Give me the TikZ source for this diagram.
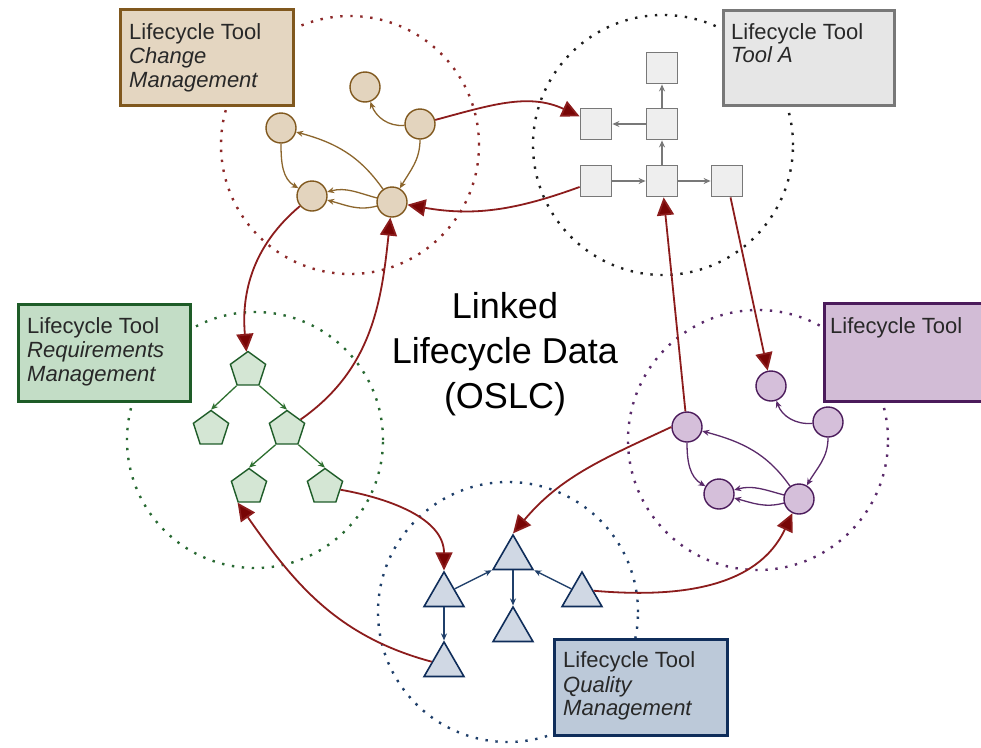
\documentclass[tikz,border=0pt]{standalone}
\usepackage{fontspec}
\setmainfont{Liberation Sans}
\usetikzlibrary{arrows.meta,shapes.geometric}

\definecolor{redc}{RGB}{140,28,28}
\definecolor{redtip}{RGB}{120,5,5}
\definecolor{boxtxt}{RGB}{40,40,40}
\definecolor{cmfill}{RGB}{228,214,193}
\definecolor{cmdraw}{RGB}{128,88,30}
\definecolor{cmnode}{RGB}{227,212,190}
\definecolor{cmedge}{RGB}{140,102,45}
\definecolor{cmdot}{RGB}{140,40,40}
\definecolor{tafill}{RGB}{230,230,230}
\definecolor{tadraw}{RGB}{120,120,120}
\definecolor{tanode}{RGB}{238,238,238}
\definecolor{taedge}{RGB}{120,120,120}
\definecolor{tadot}{RGB}{30,30,30}
\definecolor{rmfill}{RGB}{195,221,198}
\definecolor{rmdraw}{RGB}{30,92,40}
\definecolor{rmnode}{RGB}{212,230,212}
\definecolor{rmedge}{RGB}{46,112,48}
\definecolor{rmdot}{RGB}{40,105,50}
\definecolor{pufill}{RGB}{210,188,214}
\definecolor{pudraw}{RGB}{75,27,91}
\definecolor{punode}{RGB}{213,191,218}
\definecolor{puedge}{RGB}{90,42,106}
\definecolor{pudot}{RGB}{90,42,106}
\definecolor{qmfill}{RGB}{188,201,217}
\definecolor{qmdraw}{RGB}{15,45,90}
\definecolor{qmnode}{RGB}{208,216,228}
\definecolor{qmedge}{RGB}{31,63,106}
\definecolor{qmdot}{RGB}{31,63,106}

\tikzset{
  ring/.style={line width=2.4pt, dash pattern=on 2.4pt off 7.6pt},
  toolbox/.style={rectangle, line width=3pt, inner sep=0pt, anchor=north west},
  boxtext/.style={anchor=base west, inner sep=0pt, text=boxtxt, font=\fontsize{22}{24}\selectfont},
  boxital/.style={anchor=base west, inner sep=0pt, text=boxtxt, font=\fontsize{22}{24}\selectfont\itshape},
  centertext/.style={anchor=base, inner sep=0pt, text=black, font=\fontsize{36}{40}\selectfont},
  cmcirc/.style={circle, minimum size=30pt, inner sep=0pt, fill=cmnode, draw=cmdraw, line width=1.4pt},
  pucirc/.style={circle, minimum size=30pt, inner sep=0pt, fill=punode, draw=pudraw, line width=1.4pt},
  tasq/.style={rectangle, minimum size=31pt, inner sep=0pt, fill=tanode, draw=tadraw, line width=1.8pt},
  rmpent/.style={regular polygon, regular polygon sides=5, minimum size=37pt, inner sep=0pt, fill=rmnode, draw=rmdraw, line width=1.4pt},
  qmtri/.style={regular polygon, regular polygon sides=3, minimum size=46pt, inner sep=0pt, fill=qmnode, draw=qmdraw, line width=1.6pt},
  small/.style={line width=1.3pt, -{Stealth[length=7pt,width=6pt]}},
  link/.style={draw=redc, line width=1.8pt, -{Triangle[length=18pt,width=17pt,fill=redtip]}},
}

\begin{document}
\begin{tikzpicture}[x=1pt,y=1pt]
\useasboundingbox (0,0) rectangle (981,-747);
\fill[white] (0,0) rectangle (981,-747);

% dotted rings
\draw[ring, draw=cmdot] (350,-145) circle[radius=129];
\draw[ring, draw=tadot] (663,-145) circle[radius=130];
\draw[ring, draw=rmdot] (255,-440) circle[radius=128];
\draw[ring, draw=pudot] (758,-440) circle[radius=130];
\draw[ring, draw=qmdot] (508,-612) circle[radius=130];

% change management nodes
\node[cmcirc] (bt)  at (365,-87) {};
\node[cmcirc] (br)  at (420,-124) {};
\node[cmcirc] (bl)  at (281,-128) {};
\node[cmcirc] (bll) at (312,-196) {};
\node[cmcirc] (blr) at (392,-202) {};
\draw[small, draw=cmedge] (br) to[out=185,in=-70] (bt);
\draw[small, draw=cmedge] (br) to[out=-90,in=60] (blr);
\draw[small, draw=cmedge] (blr) to[out=125,in=-15] (bl);
\draw[small, draw=cmedge] (bl) to[out=-90,in=150] (bll);
\draw[small, draw=cmedge] (blr) to[out=165,in=15] (bll);
\draw[small, draw=cmedge] (blr) to[out=195,in=-15] (bll);

% tool A nodes
\node[tasq] (st)  at (662,-68) {};
\node[tasq] (smr) at (662,-124) {};
\node[tasq] (sml) at (596,-124) {};
\node[tasq] (sbl) at (596,-181) {};
\node[tasq] (sbm) at (662,-181) {};
\node[tasq] (sbr) at (727,-181) {};
\draw[small, draw=taedge] (smr) -- (st);
\draw[small, draw=taedge] (smr) -- (sml);
\draw[small, draw=taedge] (sbm) -- (smr);
\draw[small, draw=taedge] (sbl) -- (sbm);
\draw[small, draw=taedge] (sbm) -- (sbr);

% requirements nodes
\node[rmpent] (gt)  at (248,-370) {};
\node[rmpent] (gml) at (211,-429) {};
\node[rmpent] (gmr) at (287,-429) {};
\node[rmpent] (gbl) at (249,-487) {};
\node[rmpent] (gbr) at (325,-487) {};
\draw[small, draw=rmedge] (gt.corner 3) -- (gml.corner 1);
\draw[small, draw=rmedge] (gt.corner 4) -- (gmr.corner 1);
\draw[small, draw=rmedge] (gmr.corner 3) -- (gbl.corner 1);
\draw[small, draw=rmedge] (gmr.corner 4) -- (gbr.corner 1);

% purple nodes
\node[pucirc] (pt)  at (771,-386) {};
\node[pucirc] (pr)  at (828,-422) {};
\node[pucirc] (pl)  at (687,-427) {};
\node[pucirc] (pll) at (719,-494) {};
\node[pucirc] (plr) at (799,-499) {};
\draw[small, draw=puedge] (pr) to[out=185,in=-70] (pt);
\draw[small, draw=puedge] (pr) to[out=-90,in=60] (plr);
\draw[small, draw=puedge] (plr) to[out=125,in=-15] (pl);
\draw[small, draw=puedge] (pl) to[out=-90,in=150] (pll);
\draw[small, draw=puedge] (plr) to[out=165,in=15] (pll);
\draw[small, draw=puedge] (plr) to[out=195,in=-15] (pll);

% quality nodes
\node[qmtri] (qt) at (513,-558) {};
\node[qmtri] (ql) at (444,-595) {};
\node[qmtri] (qm) at (513,-630) {};
\node[qmtri] (qr) at (582,-595) {};
\node[qmtri] (qb) at (444,-665) {};
\draw[small, draw=qmedge] (ql.30) -- (qt.corner 2);
\draw[small, draw=qmedge] (qr.150) -- (qt.corner 3);
\draw[small, draw=qmedge] (qt.south) -- (qm.corner 1);
\draw[small, draw=qmedge] (ql.south) -- (qb.corner 1);

% red links
\draw[link] (br) to[out=15,in=155] (sml);
\draw[link] (sbl) to[out=200,in=-10] (blr);
\draw[link] (bll) to[out=220,in=95] (gt);
\draw[link] (gmr) to[out=35,in=-96] (blr);
\draw[link] (gbr) to[out=-10,in=90] (ql.corner 1);
\draw[link] (qb) to[out=165,in=-55] (gbl.corner 3);
\draw[link] (pl.west) to[out=205,in=50] (qt.corner 1);
\draw[link] (pl) -- (sbm);
\draw[link] (sbr) -- (pt);
\draw[link] (qr.20) to[out=-5,in=-115] (plr);

% tool boxes
\node[toolbox, fill=cmfill, draw=cmdraw, minimum width=173pt, minimum height=96pt] (cmbox) at (119,-8) {};
\node[boxtext] (cmt1) at ([shift={(10,-31)}]cmbox.north west) {Lifecycle Tool};
\node[boxital] (cmt2) at ([shift={(10,-55)}]cmbox.north west) {Change};
\node[boxital] (cmt3) at ([shift={(10,-79)}]cmbox.north west) {Management};

\node[toolbox, fill=tafill, draw=tadraw, minimum width=171pt, minimum height=95pt] (tabox) at (722,-9) {};
\node[boxtext] (tat1) at ([shift={(9,-30)}]tabox.north west) {Lifecycle Tool};
\node[boxital] (tat2) at ([shift={(9,-53)}]tabox.north west) {Tool A};

\node[toolbox, fill=rmfill, draw=rmdraw, minimum width=172pt, minimum height=97pt] (rmbox) at (17,-303) {};
\node[boxtext] (rmt1) at ([shift={(10,-30)}]rmbox.north west) {Lifecycle Tool};
\node[boxital] (rmt2) at ([shift={(10,-54)}]rmbox.north west) {Requirements};
\node[boxital] (rmt3) at ([shift={(10,-78)}]rmbox.north west) {Management};

\node[toolbox, fill=pufill, draw=pudraw, minimum width=180pt, minimum height=98pt] (pubox) at (823,-302) {};
\node[boxtext] (put1) at ([shift={(7,-31)}]pubox.north west) {Lifecycle Tool};

\node[toolbox, fill=qmfill, draw=qmdraw, minimum width=173pt, minimum height=96pt] (qmbox) at (553,-638) {};
\node[boxtext] (qmt1) at ([shift={(10,-29)}]qmbox.north west) {Lifecycle Tool};
\node[boxital] (qmt2) at ([shift={(10,-54)}]qmbox.north west) {Quality};
\node[boxital] (qmt3) at ([shift={(10,-77)}]qmbox.north west) {Management};

% centre text
\node[centertext] (ct1) at (505,-318) {Linked};
\node[centertext] (ct2) at (505,-363) {Lifecycle Data};
\node[centertext] (ct3) at (505,-408) {(OSLC)};
\end{tikzpicture}
\end{document}
